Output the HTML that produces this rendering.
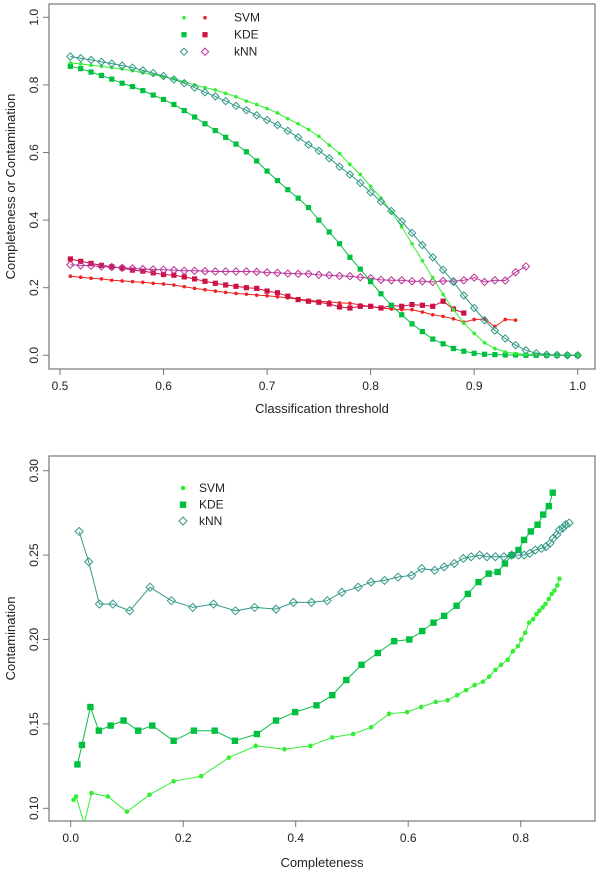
<!DOCTYPE html>
<html><head><meta charset="utf-8"><style>
html,body{margin:0;padding:0;background:#fff;}
svg{display:block;font-family:"Liberation Sans",Arial,sans-serif;}
</style></head><body>
<svg id="chart" width="600" height="872" xmlns="http://www.w3.org/2000/svg">
<rect x="0" y="0" width="600" height="872" fill="#fff"/>
<g id="top"></g>
<g id="bot"></g>
</svg>
<script>
const thresholds=[0.51,0.52,0.53,0.54,0.55,0.56,0.57,0.58,0.59,0.60,0.61,0.62,0.63,0.64,0.65,0.66,0.67,0.68,0.69,0.70,0.71,0.72,0.73,0.74,0.75,0.76,0.77,0.78,0.79,0.80,0.81,0.82,0.83,0.84,0.85,0.86,0.87,0.88,0.89,0.90,0.91,0.92,0.93,0.94,0.95,0.96,0.97,0.98,0.99,1.00];
const svmComp=[.865,.862,.858,.855,.851,.847,.842,.836,.830,.824,.818,.81,.80,.792,.785,.775,.765,.752,.742,.73,.717,.70,.685,.668,.648,.622,.597,.565,.535,.5,.465,.425,.38,.33,.28,.23,.18,.135,.095,.065,.037,.02,.01,.005,.003,.002,.001,0,0,0];
const kdeComp=[.855,.848,.838,.828,.817,.805,.795,.783,.77,.757,.742,.724,.705,.685,.665,.645,.625,.602,.575,.545,.517,.49,.465,.437,.4,.365,.33,.29,.255,.218,.182,.148,.12,.093,.07,.048,.034,.02,.012,.006,.003,.002,.001,.001,0,0,0,0,0,0];
const knnComp=[.884,.879,.874,.868,.863,.857,.851,.843,.835,.826,.816,.805,.792,.778,.766,.752,.738,.725,.71,.696,.681,.664,.645,.623,.605,.583,.558,.535,.51,.482,.455,.427,.396,.362,.326,.29,.253,.217,.177,.14,.104,.073,.05,.03,.015,.006,.002,.001,0,0];
const svmCont=[.234,.231,.228,.226,.222,.22,.218,.216,.213,.211,.208,.203,.198,.194,.19,.186,.183,.181,.178,.176,.173,.17,.166,.163,.16,.158,.155,.154,.149,.144,.14,.137,.135,.135,.128,.12,.115,.108,.098,.106,.107,.085,.106,.104];
const kdeCont=[.285,.278,.272,.266,.262,.258,.252,.249,.244,.239,.237,.232,.226,.219,.213,.208,.204,.2,.198,.19,.185,.175,.165,.16,.157,.152,.143,.14,.145,.145,.14,.147,.145,.15,.148,.145,.16,.137,.125];
const knnCont=[.268,.266,.265,.263,.261,.259,.257,.255,.254,.253,.252,.25,.25,.249,.248,.248,.248,.248,.247,.245,.244,.242,.241,.241,.238,.237,.235,.234,.231,.228,.223,.222,.222,.219,.219,.217,.22,.219,.222,.23,.217,.222,.221,.246,.263];
const topXTicks=[0.5,0.6,0.7,0.8,0.9,1.0];
const topYTicks=[0.0,0.2,0.4,0.6,0.8,1.0];
const svmX=[.005,.0095,.024,.037,.066,.10,.14,.183,.232,.281,.329,.38,.426,.465,.502,.534,.566,.598,.623,.649,.67,.687,.703,.718,.733,.744,.755,.765,.777,.786,.795,.801,.808,.815,.822,.828,.833,.839,.844,.85,.855,.86,.865,.869];
const svmY=[.105,.107,.091,.109,.107,.098,.108,.116,.119,.130,.137,.135,.137,.142,.144,.148,.156,.157,.160,.163,.164,.167,.170,.173,.175,.178,.182,.185,.188,.193,.196,.2,.204,.21,.212,.215,.217,.219,.221,.224,.227,.229,.232,.236];
const kdeX=[.012,.02,.035,.05,.071,.094,.12,.145,.183,.219,.256,.292,.331,.365,.399,.437,.465,.49,.517,.546,.575,.602,.625,.645,.664,.686,.706,.725,.743,.759,.772,.784,.796,.806,.818,.83,.84,.85,.857];
const kdeY=[.126,.1375,.160,.146,.149,.152,.146,.149,.140,.146,.146,.140,.144,.152,.157,.161,.167,.176,.185,.192,.199,.2,.205,.21,.214,.22,.227,.234,.239,.24,.245,.25,.253,.259,.264,.268,.274,.279,.287];
const knnX=[.015,.032,.051,.075,.105,.141,.179,.217,.254,.293,.327,.365,.396,.428,.456,.482,.511,.534,.558,.582,.606,.624,.647,.664,.682,.698,.712,.727,.74,.755,.77,.784,.796,.806,.816,.826,.837,.845,.852,.858,.864,.869,.875,.88,.886];
const knnY=[.264,.246,.221,.221,.217,.231,.223,.219,.221,.217,.219,.218,.222,.222,.223,.228,.231,.234,.235,.237,.238,.242,.241,.243,.245,.248,.249,.250,.249,.249,.249,.25,.250,.25,.251,.253,.254,.255,.257,.26,.262,.265,.266,.268,.269];
const botXTicks=[0.0,0.2,0.4,0.6,0.8];
const botYTicks=[0.10,0.15,0.20,0.25,0.30];

const NS="http://www.w3.org/2000/svg";
function mk(parent,tag,attrs,text){const e=document.createElementNS(NS,tag);for(const k in attrs)e.setAttribute(k,attrs[k]);if(text!==undefined)e.textContent=text;parent.appendChild(e);return e;}
const C={svm:"#33ee33",kde:"#00c040",knn:"#339988",svmR:"#ee2222",kdeR:"#cc1144",knnR:"#bb3399"};
function marker(g,type,x,y,col,s){
  let e;
  if(type==="dot"){e=mk(g,"circle",{cx:x,cy:y,r:s,fill:col});}
  else if(type==="sq"){e=mk(g,"rect",{x:x-s,y:y-s,width:2*s,height:2*s,fill:col});}
  else{e=mk(g,"polygon",{points:`${x},${y-s} ${x+s},${y} ${x},${y+s} ${x-s},${y}`,fill:"none",stroke:col,"stroke-width":1});}
  return e;
}
function series(g,name,xs,ys,sx,sy,type,col,s){
  const sg=mk(g,"g",{});
  
  
  const n=Math.min(xs.length,ys.length);
  let pts=[];for(let i=0;i<n;i++)pts.push(sx(xs[i]).toFixed(1)+","+sy(ys[i]).toFixed(1));
  mk(sg,"polyline",{points:pts.join(" "),fill:"none",stroke:col,"stroke-width":1});
  for(let i=0;i<n;i++){const m=marker(sg,type,sx(xs[i]),sy(ys[i]),col,s);
    
    }
}
function axes(g,box,xt,yt,sx,sy,fmtX,fmtY,xlab,ylab,xlabY,tickLabY){
  const fr=mk(g,"rect",{x:box.l,y:box.t,width:box.r-box.l,height:box.b-box.t,fill:"none",stroke:"#777","stroke-width":1.2});
  
  
  xt.forEach(v=>{const x=sx(v);mk(g,"line",{x1:x,y1:box.b,x2:x,y2:box.b+6,stroke:"#777"});
    const t=mk(g,"text",{x:x,y:tickLabY,"text-anchor":"middle","font-size":12,fill:"#222"},fmtX(v));
    
    });
  yt.forEach(v=>{const y=sy(v);mk(g,"line",{x1:box.l,y1:y,x2:box.l-6,y2:y,stroke:"#777"});
    const t=mk(g,"text",{x:0,y:0,transform:`translate(38,${y}) rotate(-90)`,"text-anchor":"middle","font-size":12,fill:"#222"},fmtY(v));
    
    });
  const xl=mk(g,"text",{x:(box.l+box.r)/2,y:xlabY,"text-anchor":"middle","font-size":13,fill:"#222"},xlab);
  
  
  const yl=mk(g,"text",{x:0,y:0,transform:`translate(15,${(box.t+box.b)/2}) rotate(-90)`,"text-anchor":"middle","font-size":13,fill:"#222"},ylab);
  
  
}
// TOP
(function(){
  const g=document.getElementById('top');
  const box={l:49,r:595,t:4,b:369};
  const sx=v=>60+(v-0.5)*1035.4;
  const sy=v=>355.3-v*338;
  axes(g,box,topXTicks,topYTicks,sx,sy,v=>v.toFixed(1),v=>v.toFixed(1),"Classification threshold","Completeness or Contamination",413,390);
  series(g,"svm-contamination",thresholds,svmCont,sx,sy,"dot",C.svmR,1.8);
  series(g,"kde-contamination",thresholds,kdeCont,sx,sy,"sq",C.kdeR,2.6);
  series(g,"knn-contamination",thresholds,knnCont,sx,sy,"dia",C.knnR,3.6);
  series(g,"kde-completeness",thresholds,kdeComp,sx,sy,"sq",C.kde,2.6);
  series(g,"svm-completeness",thresholds,svmComp,sx,sy,"dot",C.svm,1.8);
  series(g,"knn-completeness",thresholds,knnComp,sx,sy,"dia",C.knn,3.6);
  const lg=mk(g,"g",{});
  
  
  [["SVM","dot",C.svm,C.svmR,1.8,17.7],["KDE","sq",C.kde,C.kdeR,2.6,34.7],["kNN","dia",C.knn,C.knnR,3.6,51.7]].forEach(r=>{
    marker(lg,r[1],184,r[5],r[2],r[4]);marker(lg,r[1],205,r[5],r[3],r[4]);
    const t=mk(lg,"text",{x:234,y:r[5]+4,"font-size":12,fill:"#222"},r[0]);
    
    
  });
})();
// BOTTOM
(function(){
  const g=document.getElementById('bot');
  const box={l:49,r:595,t:456,b:821};
  const sx=v=>70.7+v*562.5;
  const sy=v=>470.7-(v-0.30)*-1*0+ (0.30-v)*1688;
  axes(g,box,botXTicks,botYTicks,sx,sy,v=>v.toFixed(1),v=>v.toFixed(2),"Completeness","Contamination",867,842);
  mk(g,"defs",{}).innerHTML='<clipPath id="bclip"><rect x="49" y="456" width="546" height="365"/></clipPath>';
  const pg=mk(g,"g",{"clip-path":"url(#bclip)"});
  series(pg,"svm-curve",svmX,svmY,sx,sy,"dot",C.svm,2.3);
  series(pg,"kde-curve",kdeX,kdeY,sx,sy,"sq",C.kde,3.2);
  series(pg,"knn-curve",knnX,knnY,sx,sy,"dia",C.knn,4);
  const lg=mk(g,"g",{});
  
  
  [["SVM","dot",C.svm,2.3,488],["KDE","sq",C.kde,3.2,504.7],["kNN","dia",C.knn,4,521]].forEach(r=>{
    marker(lg,r[1],183,r[4],r[2],r[3]);
    const t=mk(lg,"text",{x:199,y:r[4]+4,"font-size":12,fill:"#222"},r[0]);
    
    
  });
})();
</script>
</body></html>
